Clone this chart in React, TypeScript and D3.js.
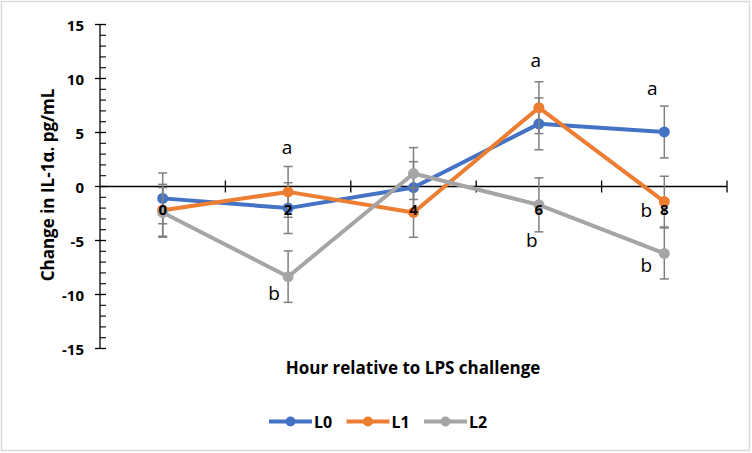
import React from "react";
import * as d3 from "d3";

const categories = ["0", "2", "4", "6", "8"];
const seriesNames = ["L0", "L1", "L2"];
const colors = ["#4472C4", "#ED7D31", "#A5A5A5"];
const L0 = [-1.1, -2.0, -0.1, 5.8, 5.05];
const L1 = [-2.2, -0.5, -2.4, 7.3, -1.4];
const L2 = [-2.4, -8.35, 1.2, -1.7, -6.2];
const L0err = [2.35, 2.35, 2.4, 2.4, 2.4];
const L1err = [2.4, 2.35, 2.3, 2.4, 2.35];
const L2err = [2.3, 2.38, 2.4, 2.5, 2.36];
const yTicks = [15, 10, 5, 0, -5, -10, -15];
const annotations = [
  { cat: "2", value: 3.7, dx: -1, text: "a" },
  { cat: "2", value: -9.9, dx: -14, text: "b" },
  { cat: "6", value: 11.7, dx: -3, text: "a" },
  { cat: "6", value: -4.95, dx: -7, text: "b" },
  { cat: "8", value: 9.1, dx: -12, text: "a" },
  { cat: "8", value: -2.2, dx: -18, text: "b" },
  { cat: "8", value: -7.3, dx: -18, text: "b" },
];

const W = 752;
const H = 453;
const FONT = "'Open Sans', 'Liberation Sans', sans-serif";

export default function App() {
  const x = d3.scaleBand<string>().domain(categories).range([100, 727]).padding(0);
  const y = d3.scaleLinear().domain([-15, 15]).range([348.5, 24.5]);
  const cx = (c: string) => (x(c) as number) + x.bandwidth() / 2;
  const values = [L0, L1, L2];
  const errs = [L0err, L1err, L2err];
  const line = d3
    .line<number>()
    .x((_, i) => cx(categories[i]))
    .y((d) => y(d));
  const minorTicks = d3.range(-15, 16, 1).filter((v) => v % 5 !== 0);
  const boundaries = categories.map((c) => x(c) as number).concat([727]);
  const y0 = y(0);
  const legendX = [269, 346.5, 424];

  return (
    <div style={{ position: "absolute", left: 0, top: 0 }}>
      <svg width={W} height={H} style={{ display: "block", fontFamily: FONT }}>
        <rect x={0} y={0} width={W} height={H} fill="#fff" />
        <rect x={1.5} y={1.5} width={748} height={449} fill="none" stroke="#d9d9d9" strokeWidth={1.5} />
        {/* y axis */}
        <line x1={100} x2={100} y1={y(15)} y2={y(-15)} stroke="#000" strokeWidth={1.3} />
        {yTicks.map((t) => (
          <g key={"yt" + t}>
            <line x1={95} x2={106} y1={y(t)} y2={y(t)} stroke="#000" strokeWidth={1.3} />
            <text x={84} y={y(t)} textAnchor="end" dominantBaseline="central" fontSize={15} fontWeight="bold" fill="#000">
              {t}
            </text>
          </g>
        ))}
        {minorTicks.map((t) => (
          <line key={"mt" + t} x1={100} x2={106} y1={y(t)} y2={y(t)} stroke="#000" strokeWidth={1.1} />
        ))}
        {/* x axis */}
        <line x1={100} x2={727} y1={y0} y2={y0} stroke="#000" strokeWidth={1.3} />
        {boundaries.slice(1).map((b, i) => (
          <line key={"xt" + i} x1={b} x2={b} y1={y0 - 6} y2={y0 + 6} stroke="#000" strokeWidth={1.3} />
        ))}
        {/* series */}
        {values.map((vals, si) => (
          <g key={"s" + si}>
            {vals.map((v, i) => {
              const px = cx(categories[i]);
              const e = errs[si][i];
              return (
                <g key={"e" + i} stroke="#7f7f7f" strokeWidth={1.5}>
                  <line x1={px} x2={px} y1={y(v + e)} y2={y(v - e)} />
                  <line x1={px - 4.5} x2={px + 4.5} y1={y(v + e)} y2={y(v + e)} />
                  <line x1={px - 4.5} x2={px + 4.5} y1={y(v - e)} y2={y(v - e)} />
                </g>
              );
            })}
            <path d={line(vals) as string} fill="none" stroke={colors[si]} strokeWidth={4} strokeLinejoin="round" />
            {vals.map((v, i) => (
              <circle key={"c" + i} cx={cx(categories[i])} cy={y(v)} r={5.5} fill={colors[si]} />
            ))}
          </g>
        ))}
        {/* x tick labels */}
        {categories.map((c) => (
          <text key={"xl" + c} x={cx(c)} y={209} textAnchor="middle" dominantBaseline="central" fontSize={15} fontWeight="bold" fill="#000">
            {c}
          </text>
        ))}
        {/* annotations */}
        {annotations.map((a, i) => (
          <text key={"an" + i} x={cx(a.cat) + a.dx} y={y(a.value)} textAnchor="middle" dominantBaseline="central" fontSize={19} fill="#000">
            {a.text}
          </text>
        ))}
        {/* axis titles */}
        <text transform="translate(47,185) rotate(-90)" textAnchor="middle" dominantBaseline="central" fontSize={17} fontWeight="bold" fill="#000">
          Change in IL-1α. pg/mL
        </text>
        <text x={413} y={367} textAnchor="middle" dominantBaseline="central" fontSize={17} fontWeight="bold" fill="#000">
          Hour relative to LPS challenge
        </text>
        {/* legend */}
        {seriesNames.map((n, i) => (
          <g key={"lg" + n}>
            <line x1={legendX[i]} x2={legendX[i] + 43} y1={421.5} y2={421.5} stroke={colors[i]} strokeWidth={4} />
            <circle cx={legendX[i] + 21.5} cy={421.5} r={5} fill={colors[i]} />
            <text x={legendX[i] + 45} y={421.5} dominantBaseline="central" fontSize={16} fontWeight="bold" fill="#000">
              {n}
            </text>
          </g>
        ))}
      </svg>
    </div>
  );
}
